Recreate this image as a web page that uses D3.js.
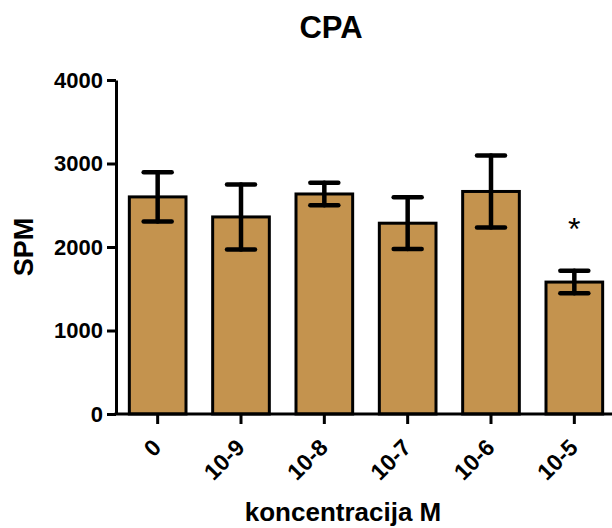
<!DOCTYPE html>
<html>
<head>
<meta charset="UTF-8">
<script src="https://cdnjs.cloudflare.com/ajax/libs/d3/7.8.5/d3.min.js"></script>
<style>
  body { margin: 0; background: #fff; }
  svg text { font-family: Arial, "Liberation Sans", sans-serif; font-weight: bold; fill: #000; }
</style>
</head>
<body>
<div id="chart"></div>
<script>
  // data
  const categories = ['0', '10-9', '10-8', '10-7', '10-6', '10-5'];
  const means = [2600, 2360, 2635, 2285, 2665, 1580];
  const errors = [295, 390, 135, 310, 430, 135];
  const marks = ['', '', '', '', '', '*'];
  const yTicks = [0, 1000, 2000, 3000, 4000];

  const width = 612, height = 528;
  const plotLeft = 116, plotRight = 616, plotTop = 80, plotBottom = 414;
  const font = 'Arial, "Liberation Sans", sans-serif';

  const svg = d3.select('#chart').append('svg')
    .attr('width', width)
    .attr('height', height);

  const x = d3.scaleBand()
    .domain(categories)
    .range([plotLeft, plotRight])
    .paddingInner(0.32)
    .paddingOuter(0.16);

  const y = d3.scaleLinear()
    .domain([0, 4000])
    .range([plotBottom, plotTop]);

  const data = categories.map((c, i) => ({ cat: c, mean: means[i], err: errors[i], mark: marks[i] }));

  // bars
  svg.selectAll('rect.bar')
    .data(data)
    .enter()
    .append('rect')
    .attr('class', 'bar')
    .attr('x', d => x(d.cat))
    .attr('y', d => y(d.mean))
    .attr('width', x.bandwidth())
    .attr('height', d => y(0) - y(d.mean))
    .attr('fill', '#c4934e')
    .attr('stroke', '#000')
    .attr('stroke-width', 3);

  // error bars
  const cx = d => x(d.cat) + x.bandwidth() / 2;
  const eb = svg.append('g')
    .attr('stroke', '#000')
    .attr('stroke-width', 4.5)
    .attr('stroke-linecap', 'round');
  eb.selectAll('line.v')
    .data(data).enter().append('line')
    .attr('x1', cx).attr('x2', cx)
    .attr('y1', d => y(d.mean + d.err)).attr('y2', d => y(d.mean - d.err));
  eb.selectAll('line.t')
    .data(data).enter().append('line')
    .attr('x1', d => cx(d) - 14).attr('x2', d => cx(d) + 14)
    .attr('y1', d => y(d.mean + d.err)).attr('y2', d => y(d.mean + d.err));
  eb.selectAll('line.b')
    .data(data).enter().append('line')
    .attr('x1', d => cx(d) - 14).attr('x2', d => cx(d) + 14)
    .attr('y1', d => y(d.mean - d.err)).attr('y2', d => y(d.mean - d.err));

  // significance marks
  svg.selectAll('text.mark')
    .data(data.filter(d => d.mark))
    .enter()
    .append('text')
    .attr('class', 'mark')
    .attr('x', cx)
    .attr('y', d => y(d.mean + d.err) - 31)
    .attr('text-anchor', 'middle')
    .style('font-weight', 'normal')
    .style('font-size', '32px')
    .text(d => d.mark);

  // y axis
  const yAxis = svg.append('g')
    .attr('transform', `translate(${plotLeft},0)`)
    .call(d3.axisLeft(y).tickValues(yTicks).tickFormat(d3.format('d'))
      .tickSize(9).tickPadding(4).tickSizeOuter(0));
  yAxis.selectAll('path, line').attr('stroke', '#000').attr('stroke-width', 3);
  yAxis.selectAll('text').style('font-size', '22px').style('font-family', font);

  // x axis
  const xAxis = svg.append('g')
    .attr('transform', `translate(0,${plotBottom})`)
    .call(d3.axisBottom(x).tickSize(10).tickSizeOuter(0));
  xAxis.select('path').attr('d', `M${plotLeft - 1.5},0H${width}`);
  xAxis.selectAll('path, line').attr('stroke', '#000').attr('stroke-width', 3);
  xAxis.selectAll('text')
    .style('font-size', '23px')
    .style('font-family', font)
    .attr('text-anchor', 'end')
    .attr('dy', null)
    .attr('y', null)
    .attr('transform', 'translate(5,35) rotate(-45)');

  // titles
  svg.append('text')
    .attr('x', 331).attr('y', 38)
    .attr('text-anchor', 'middle')
    .style('font-size', '31px')
    .text('CPA');

  svg.append('text')
    .attr('transform', `translate(33,${(plotTop + plotBottom) / 2}) rotate(-90)`)
    .attr('text-anchor', 'middle')
    .style('font-size', '27px')
    .text('SPM');

  svg.append('text')
    .attr('x', 343).attr('y', 521)
    .attr('text-anchor', 'middle')
    .style('font-size', '26px')
    .text('koncentracija M');
</script>
</body>
</html>
